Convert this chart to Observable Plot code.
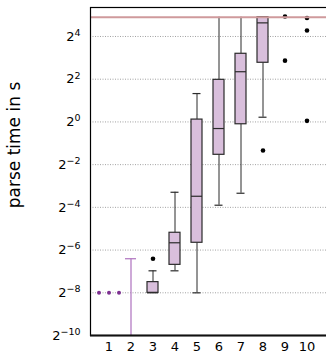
<!DOCTYPE html>
<html><head><meta charset="utf-8">
<script src="https://cdn.jsdelivr.net/npm/d3@7"></script>
<script src="https://cdn.jsdelivr.net/npm/@observablehq/plot@0.6"></script>
<style>body{margin:0;background:#fff} svg{display:block}</style>
</head><body><div id="chart"></div>
<script>
// Categories (x)
const categories = ["1","2","3","4","5","6","7","8","9","10"];
// Box plots (seconds)
const boxCats     = ["3","4","5","6","7","8"];
const q1          = [0.0039, 0.00967, 0.0198, 0.344, 0.927, 6.82];
const median      = [0.0039, 0.0198, 0.0896, 0.807, 5.10, 24.9];
const q3          = [0.00552, 0.0274, 1.079, 3.92, 9.13, 30];
const whiskerLow  = [0.0039, 0.00797, 0.0039, 0.0670, 0.0988, 1.165];
const whiskerHigh = [0.00797, 0.102, 2.51, 30, 30, 30];
// Outliers
const outlierCats   = ["3","8","9","9","10","10","10"];
const outlierValues = [0.0118, 0.395, 30.6, 7.31, 29.2, 19.4, 1.035];
// Group 1: three runs all at 2^-8
const group1Values = [0.0039, 0.0039, 0.0039];
// Group 2: purple whisker
const group2Low  = [0.0009765625];
const group2High = [0.0118];
// Timeout line
const timeout = [30];
// Axis ticks (powers of two)
const tickExponents = [-10, -8, -6, -4, -2, 0, 2, 4];
const yLabel = "parse time in s";

const yTicks = tickExponents.map(e => 2 ** e);
const gridTicks = yTicks.slice(1);
const boxData = boxCats.map((c, i) => ({cat: c, q1: q1[i], med: median[i], q3: q3[i], lo: whiskerLow[i], hi: whiskerHigh[i]}));
const outliers = outlierCats.map((c, i) => ({cat: c, v: outlierValues[i]}));
const g2 = [{cat: "2", lo: group2Low[0], hi: group2High[0]}];

const boxFill = "#d9bfdc", boxStroke = "#2b2b2b", purple = "#7d2f91", lightPurple = "#b47cc3";

const plot = Plot.plot({
  width: 326, height: 359,
  marginLeft: 90, marginRight: 0, marginTop: 7, marginBottom: 24,
  style: {fontFamily: "DejaVu Sans", fontSize: "13px", background: "white"},
  x: {type: "band", domain: categories, padding: 0.48},
  y: {type: "log", base: 2, domain: [2 ** -10, 41]},
  marks: [
    Plot.ruleY(gridTicks, {stroke: "#8a8a8a", strokeDasharray: "1,1.5", strokeWidth: 0.8}),
    Plot.ruleX(boxData, {x: "cat", y1: "lo", y2: "q1", stroke: boxStroke, strokeWidth: 1}),
    Plot.ruleX(boxData, {x: "cat", y1: "q3", y2: "hi", stroke: boxStroke, strokeWidth: 1}),
    Plot.tickY(boxData.filter(d => d.lo < d.q1), {x: "cat", y: "lo", stroke: boxStroke, strokeWidth: 1.2, insetLeft: 1.5, insetRight: 1.5}),
    Plot.tickY(boxData.filter(d => d.hi < 30), {x: "cat", y: "hi", stroke: boxStroke, strokeWidth: 1.2, insetLeft: 1.5, insetRight: 1.5}),
    Plot.barY(boxData, {x: "cat", y1: "q1", y2: "q3", fill: boxFill, stroke: boxStroke, strokeWidth: 1.2}),
    Plot.tickY(boxData, {x: "cat", y: "med", stroke: boxStroke, strokeWidth: 1.2}),
    Plot.ruleX(g2, {x: "cat", y1: "lo", y2: "hi", stroke: lightPurple, strokeWidth: 1.3}),
    Plot.tickY(g2, {x: "cat", y: "hi", stroke: lightPurple, strokeWidth: 1.3}),
    ...[-10, 0, 10].map((dx, i) => Plot.dot([group1Values[i]], {x: () => "1", y: d => d, r: 2, fill: purple, stroke: null, dx})),
    Plot.dot(outliers, {x: "cat", y: "v", r: 2.3, fill: "black", stroke: null}),
    Plot.ruleY(timeout, {stroke: "#cf9a9c", strokeWidth: 2}),
    Plot.frame({stroke: "black", strokeWidth: 1.2, insetRight: -3}),
    Plot.ruleY([2 ** -10], {stroke: "#111", strokeWidth: 2}),
    Plot.axisX({tickSize: 0, tickPadding: 6, label: null, fontSize: 13}),
    Plot.axisY({ticks: yTicks, tickSize: 0, tickPadding: 10, label: null, fontSize: 13,
      tickFormat: d => "2|" + Math.round(Math.log2(d))})
  ]
});

const svgNS = "http://www.w3.org/2000/svg";
plot.querySelectorAll('g[aria-label="y-axis tick label"] text').forEach(t => {
  const [base, exp] = t.textContent.split("|");
  t.textContent = "";
  const b = document.createElementNS(svgNS, "tspan");
  b.textContent = base;
  const s = document.createElementNS(svgNS, "tspan");
  s.textContent = exp.replace("-", "\u2212");
  s.setAttribute("dy", "-0.5em");
  s.setAttribute("font-size", "9.5px");
  t.appendChild(b); t.appendChild(s);
});
const lab = document.createElementNS(svgNS, "text");
lab.textContent = yLabel;
lab.setAttribute("transform", "translate(20,145) rotate(-90)");
lab.setAttribute("text-anchor", "middle");
lab.setAttribute("font-size", "17px");
lab.setAttribute("fill", "black");
plot.appendChild(lab);

document.getElementById("chart").appendChild(plot);
</script>
</body></html>
